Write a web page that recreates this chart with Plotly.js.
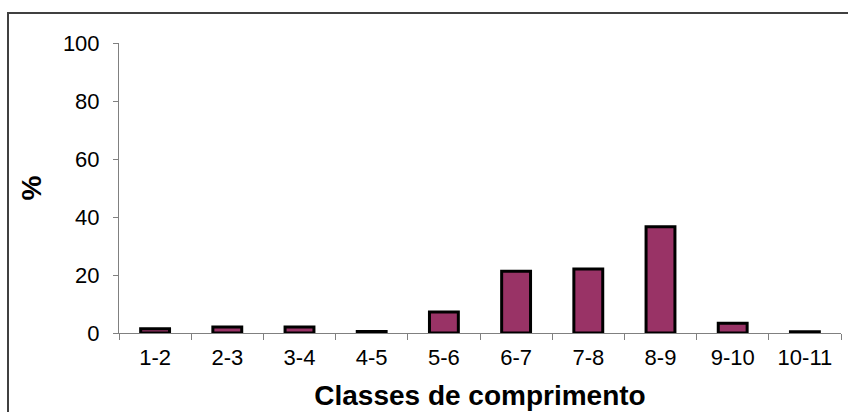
<!DOCTYPE html>
<html>
<head>
<meta charset="utf-8">
<script src="https://cdn.plot.ly/plotly-3.0.1.min.js"></script>
<style>
  html, body { margin: 0; padding: 0; overflow: hidden; background: #fff; }
  #wrap { position: relative; width: 848px; height: 412px; }
  #chart { width: 848px; height: 412px; }
  #frame { position: absolute; left: 7px; top: 12px; width: 900px; height: 500px;
           border-left: 2px solid #404040; border-top: 2px solid #404040; pointer-events: none; }
</style>
</head>
<body>
<div id="wrap">
  <div id="chart"></div>
  <div id="frame"></div>
</div>
<script>
const categories = ["1-2", "2-3", "3-4", "4-5", "5-6", "6-7", "7-8", "8-9", "9-10", "10-11"];
const percent = [1.5, 2.1, 2.1, 0.5, 7.2, 21.3, 22.1, 36.6, 3.4, 0.4];
const yTicks = [0, 20, 40, 60, 80, 100];

const trace = {
  type: "bar",
  x: categories,
  y: percent,
  marker: { color: "#993366", line: { color: "#000000", width: 3 } },
  hoverinfo: "x+y"
};

const font = "Liberation Sans, Arial, sans-serif";

const layout = {
  width: 848,
  height: 412,
  margin: { l: 119, r: 7, t: 43, b: 79 },
  paper_bgcolor: "#ffffff",
  plot_bgcolor: "#ffffff",
  showlegend: false,
  bargap: 0.6,
  font: { family: font, color: "#000000" },
  xaxis: {
    type: "category",
    showline: true,
    linecolor: "#808080",
    linewidth: 1,
    ticks: "outside",
    tickson: "boundaries",
    ticklen: 6,
    tickcolor: "#808080",
    tickfont: { family: font, size: 22, color: "#000" },
    ticklabelstandoff: 5,
    showgrid: false,
    zeroline: false,
    title: { text: "Classes de comprimento", font: { family: font, size: 28, color: "#000", weight: "bold" }, standoff: 15 }
  },
  yaxis: {
    range: [0, 100],
    tickvals: yTicks,
    showline: true,
    linecolor: "#808080",
    linewidth: 1,
    ticks: "outside",
    ticklen: 5,
    tickcolor: "#808080",
    tickfont: { family: font, size: 22, color: "#000" },
    ticklabelstandoff: 9,
    showgrid: false,
    zeroline: false,
    title: { text: "%", font: { family: font, size: 28, color: "#000", weight: "bold" }, standoff: 13 }
  }
};

Plotly.newPlot("chart", [trace], layout, { displayModeBar: false, staticPlot: true });
</script>
</body>
</html>
